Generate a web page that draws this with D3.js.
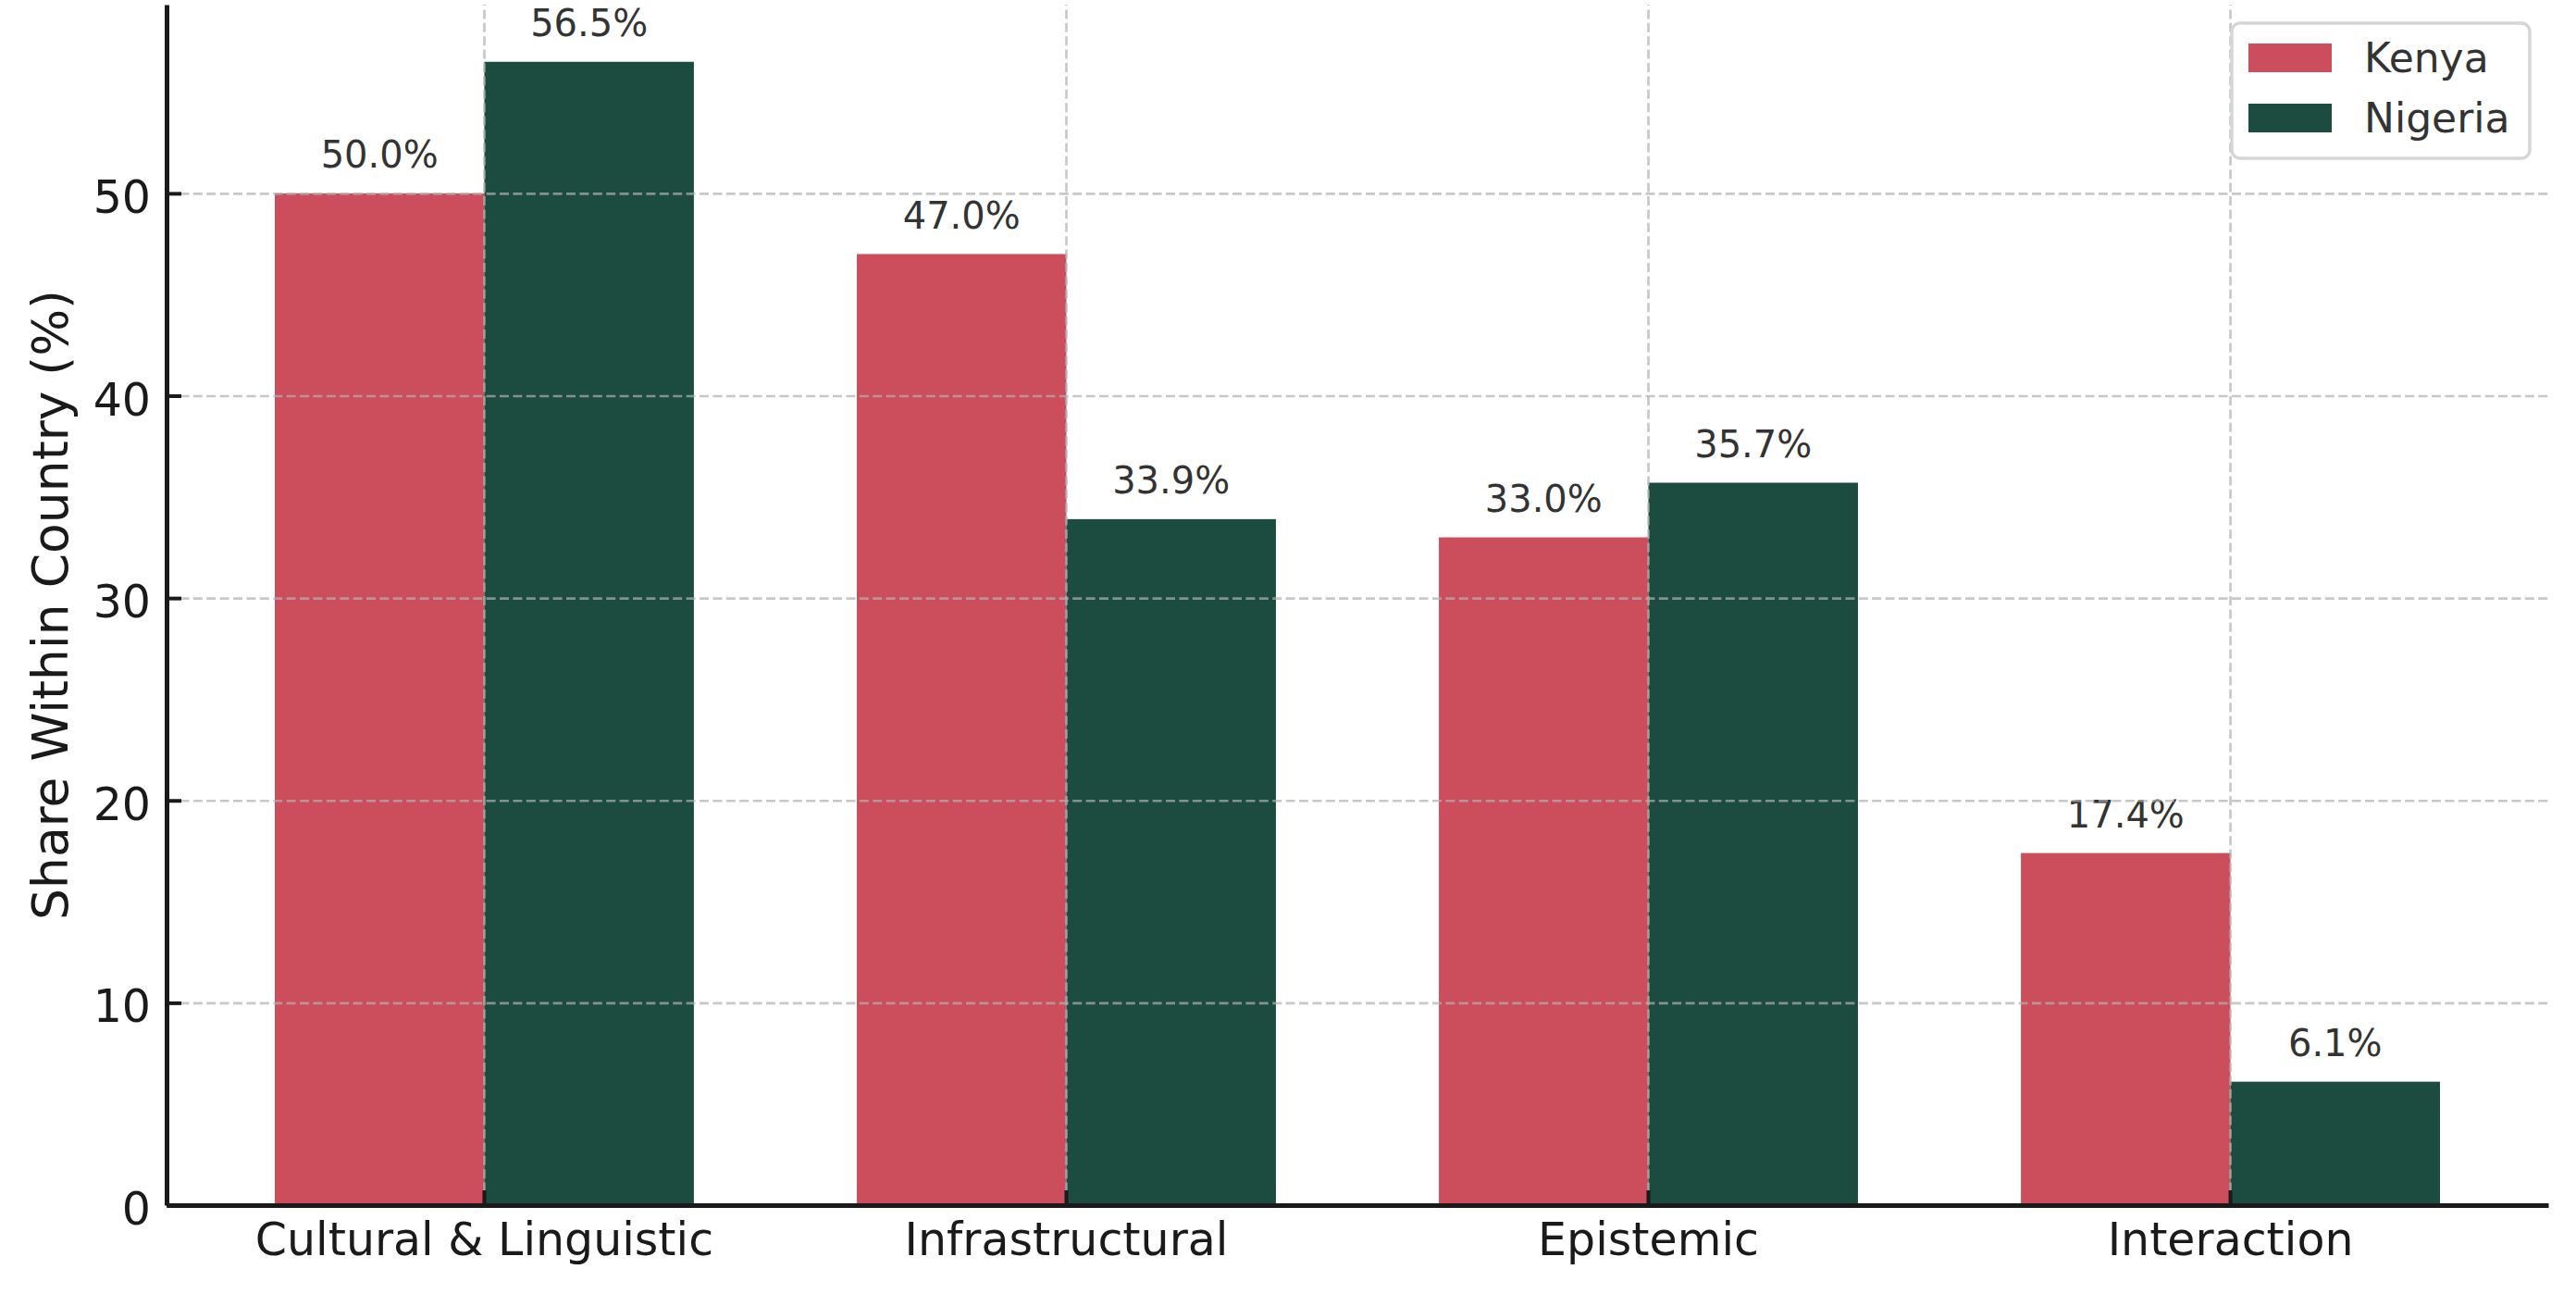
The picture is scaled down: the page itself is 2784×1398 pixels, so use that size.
<!DOCTYPE html>
<html>
<head>
<meta charset="utf-8">
<script src="https://cdn.jsdelivr.net/npm/d3@7"></script>
<style>
  body { margin: 0; background: #fff; }
  svg { display: block; font-family: "DejaVu Sans", sans-serif; }
</style>
</head>
<body>
<div id="chart"></div>
<script>
// ---------- data ----------
const categories = ["Cultural & Linguistic", "Infrastructural", "Epistemic", "Interaction"];
const countries = ["Kenya", "Nigeria"];
const kenyaShare = [50.0, 47.0, 33.0, 17.4];
const nigeriaShare = [56.5, 33.9, 35.7, 6.1];
const yTicks = [0, 10, 20, 30, 40, 50];
const yLabel = "Share Within Country (%)";

const countryColors = ["#cc4e5c", "#1c4c3f"];

// ---------- layout ----------
let W = 2784, H = 1398;
let margin = { top: 5, right: 30, bottom: 96, left: 180 };
let width = W - margin.left - margin.right,
    height = H - margin.top - margin.bottom;

let svg = d3.select("#chart").append("svg")
    .attr("width", W)
    .attr("height", H);

let g = svg.append("g")
    .attr("transform", "translate(" + margin.left + "," + margin.top + ")");

// rows for the bars
let rows = categories.map(function (c, i) {
    return { cat: c, values: [kenyaShare[i], nigeriaShare[i]] };
});

// x: one band per category, two bars of 0.36 inside each band
let x = d3.scaleBand()
    .domain(categories)
    .range([0, width])
    .paddingInner(0.28)
    .paddingOuter(0.186);

let xSub = d3.scaleBand()
    .domain(countries)
    .range([0, x.bandwidth()])
    .padding(0);

let yMax = d3.max(kenyaShare.concat(nigeriaShare)) * 1.05;
let y = d3.scaleLinear()
    .domain([0, yMax])
    .range([height, 0]);

// ---------- bars ----------
let groups = g.selectAll(".cat")
    .data(rows)
    .enter().append("g")
    .attr("class", "cat")
    .attr("transform", function (d) { return "translate(" + x(d.cat) + ",0)"; });

groups.selectAll("rect")
    .data(function (d) { return d.values.map(function (v, j) { return { country: countries[j], v: v, j: j }; }); })
    .enter().append("rect")
    .attr("x", function (d) { return xSub(d.country); })
    .attr("y", function (d) { return y(d.v); })
    .attr("width", xSub.bandwidth())
    .attr("height", function (d) { return height - y(d.v); })
    .attr("fill", function (d) { return countryColors[d.j]; });

// ---------- grid (on top of bars) ----------
let gridStyle = function (sel) {
    sel.select(".domain").remove();
    sel.selectAll("text").remove();
    sel.selectAll("line")
        .attr("stroke", "#b0b0b0")
        .attr("stroke-opacity", 0.7)
        .attr("stroke-width", 2.7)
        .attr("stroke-dasharray", "10,4.4");
};

g.append("g")
    .attr("class", "grid-y")
    .call(d3.axisLeft(y).tickValues(yTicks).tickSize(-width).tickFormat(""))
    .call(gridStyle);

g.append("g")
    .attr("class", "grid-x")
    .attr("transform", "translate(0," + height + ")")
    .call(d3.axisBottom(x).tickSize(-height).tickFormat(""))
    .call(gridStyle);

// ---------- value labels ----------
groups.selectAll(".val")
    .data(function (d) { return d.values.map(function (v, j) { return { country: countries[j], v: v }; }); })
    .enter().append("text")
    .attr("class", "val")
    .attr("x", function (d) { return xSub(d.country) + xSub.bandwidth() / 2; })
    .attr("y", function (d) { return y(d.v) - 27.5; })
    .attr("text-anchor", "middle")
    .attr("font-size", 40)
    .attr("fill", "#333333")
    .text(function (d) { return d.v.toFixed(1) + "%"; });

// ---------- axes ----------
let xAxis = g.append("g")
    .attr("transform", "translate(0," + height + ")")
    .call(d3.axisBottom(x).tickSizeInner(-16).tickSizeOuter(0).tickPadding(19));

let yAxis = g.append("g")
    .call(d3.axisLeft(y).tickValues(yTicks).tickSizeInner(-16).tickSizeOuter(0).tickPadding(17));

[xAxis, yAxis].forEach(function (ax) {
    ax.select(".domain").attr("stroke", "#1a1a1a").attr("stroke-width", 5);
    ax.selectAll(".tick line").attr("stroke", "#1a1a1a").attr("stroke-width", 4);
    ax.selectAll(".tick text")
        .attr("font-family", "DejaVu Sans")
        .attr("font-size", 49)
        .attr("fill", "#1a1a1a");
});
yAxis.selectAll(".tick text").attr("dy", "0.42em");

// y axis title
svg.append("text")
    .attr("transform", "translate(73," + (margin.top + height / 2) + ") rotate(-90)")
    .attr("text-anchor", "middle")
    .attr("font-size", 53.5)
    .attr("fill", "#1a1a1a")
    .text(yLabel);

// ---------- legend ----------
let legend = svg.append("g")
    .attr("transform", "translate(2412,25)");

legend.append("rect")
    .attr("width", 322)
    .attr("height", 146)
    .attr("rx", 9)
    .attr("fill", "#ffffff")
    .attr("fill-opacity", 0.85)
    .attr("stroke", "#d6d6d6")
    .attr("stroke-width", 3.5);

let items = legend.selectAll(".item")
    .data(countries)
    .enter().append("g")
    .attr("class", "item")
    .attr("transform", function (d, i) { return "translate(18," + (22 + i * 65) + ")"; });

items.append("rect")
    .attr("width", 90)
    .attr("height", 31)
    .attr("fill", function (d, i) { return countryColors[i]; });

items.append("text")
    .attr("x", 125)
    .attr("y", 15.5)
    .attr("dy", "0.36em")
    .attr("font-size", 44)
    .attr("fill", "#333333")
    .text(function (d) { return d; });
</script>
</body>
</html>
